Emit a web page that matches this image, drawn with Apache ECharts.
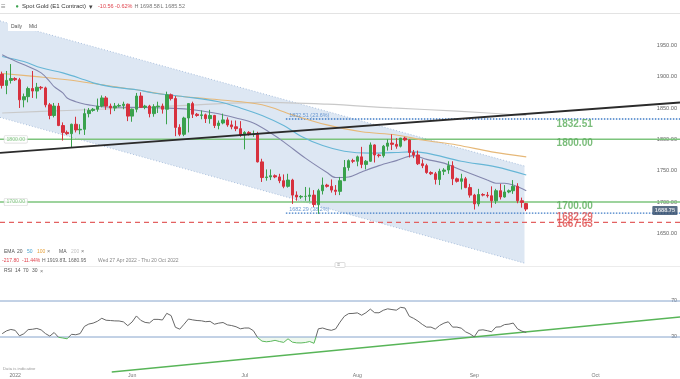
<!DOCTYPE html>
<html><head><meta charset="utf-8">
<script src="https://cdn.jsdelivr.net/npm/echarts@6/dist/echarts.min.js"></script>
<style>html,body{margin:0;padding:0;background:#fff}#c{width:680px;height:379px}</style>
</head><body><div id="c"></div>
<script>
// ---------- data ----------
const firstDate = '2022-04-27';
const lastDataDate = '2022-09-15';
const categoryCount = 157;
const monthLabels = {'05':'2022','06':'Jun','07':'Jul','08':'Aug','09':'Sep','10':'Oct'};

const opens = [1904,1886,1894,1897,1895,1863,1868,1881,1877,1883,
1882,1855,1838,1853,1822,1811,1809,1824,1815,1816,
1841,1846,1848,1853,1866,1853,1850,1853,1854,1856,
1837,1848,1869,1851,1853,1841,1852,1853,1848,1871,
1865,1819,1808,1834,1857,1840,1838,1839,1833,1838,
1822,1826,1831,1823,1820,1817,1807,1811,1808,1808,
1764,1739,1740,1742,1740,1734,1725,1735,1711,1708,
1709,1709,1711,1696,1718,1727,1725,1719,1717,1734,
1755,1766,1765,1772,1760,1765,1791,1775,1774,1789,
1794,1792,1789,1802,1799,1779,1775,1761,1758,1747,
1745,1736,1749,1751,1758,1737,1733,1737,1723,1711,
1697,1712,1711,1710,1702,1718,1708,1716,1718,1725,
1702,1697.5];
const highs = [1908,1909,1920,1899,1898,1873,1884,1909,1890,1885,
1884,1858,1858,1858,1827,1814,1825,1836,1824,1849,
1850,1850,1865,1870,1869,1857,1858,1857,1860,1857,
1849,1874,1875,1855,1855,1856,1860,1857,1876,1873,
1869,1824,1836,1857,1860,1842,1846,1841,1847,1839,
1830,1841,1835,1830,1830,1829,1813,1813,1814,1812,
1769,1752,1752,1744,1745,1744,1745,1737,1717,1711,
1724,1723,1719,1721,1739,1729,1736,1727,1740,1767,
1768,1769,1774,1788,1767,1795,1792,1777,1791,1800,
1808,1802,1802,1804,1800,1783,1782,1768,1761,1749,
1748,1753,1754,1765,1765,1739,1745,1740,1729,1713,
1721,1714,1716,1725,1721,1729,1727,1720,1735,1730,
1707,1698.58];
const lows = [1881,1872,1889,1893,1850,1851,1859,1866,1865,1879,
1851,1832,1835,1821,1798,1807,1787,1811,1808,1807,
1835,1844,1844,1851,1847,1840,1845,1851,1848,1829,
1828,1843,1850,1848,1835,1836,1842,1841,1824,1862,
1805,1805,1805,1811,1834,1836,1832,1826,1825,1818,
1816,1824,1820,1816,1813,1804,1784,1806,1804,1763,
1732,1734,1735,1738,1730,1722,1723,1697,1702,1705,
1702,1701,1692,1681,1712,1723,1715,1711,1711,1734,
1750,1762,1757,1754,1752,1764,1763,1771,1771,1782,
1783,1785,1787,1797,1771,1770,1759,1754,1745,1743,
1728,1727,1743,1745,1727,1731,1720,1722,1707,1688,
1693,1709,1707,1691,1697,1704,1707,1714,1713,1698,
1691,1685.52];
const closes = [1886,1894,1897,1895,1863,1868,1881,1877,1883,1882,
1855,1838,1853,1822,1811,1809,1824,1815,1816,1841,
1846,1848,1853,1866,1853,1850,1853,1854,1856,1837,
1848,1869,1851,1853,1841,1852,1853,1848,1871,1865,
1819,1808,1834,1857,1840,1838,1839,1833,1838,1822,
1826,1831,1823,1820,1817,1807,1811,1808,1808,1764,
1739,1740,1742,1740,1734,1725,1735,1711,1708,1709,
1709,1711,1696,1718,1727,1725,1719,1717,1734,1755,
1766,1765,1772,1760,1765,1791,1775,1774,1789,1794,
1792,1789,1802,1799,1779,1775,1761,1758,1747,1745,
1736,1749,1751,1758,1737,1733,1737,1723,1711,1697,
1712,1711,1710,1702,1718,1708,1716,1718,1725,1702,
1699.31,1688.75];

// moving averages: [candle index, price]
const ema20 = [[0,1935],[3,1925],[6,1916],[9,1906],[11,1892],[12,1884],[14,1874],[15,1866],[17,1860],[18,1858],[20,1855],[23,1852],[30,1851],[37,1850],[43,1848],[49,1842],[54,1834],[58,1826],[62,1810],[65,1796],[70,1770],[75,1747],[77,1739],[80,1740],[83,1748],[87,1758],[91,1766],[95,1774],[98,1768],[102,1762],[106,1751],[109,1743],[112,1735],[114,1730],[116,1730],[118,1727],[121,1718]];
const ema50 = [[0,1932],[5,1924],[9,1914],[14,1906],[19,1895],[21,1890],[25,1884],[31,1879],[35,1874],[42,1868],[50,1860],[55,1850],[60,1838],[65,1822],[69,1805],[74,1790],[79,1781],[85,1778],[91,1779],[94,1780],[98,1778],[106,1765],[114,1756],[121,1743]];
const ema100 = [[0,1905],[8,1900],[15,1895],[23,1887],[31,1879],[38,1871],[50,1863],[60,1855],[67,1839],[75,1823],[83,1812],[91,1807],[97,1799],[105,1791],[113,1780],[121,1772]];
const ma200 = [[0,1842],[15,1846],[30,1850],[45,1855],[60,1859],[75,1856],[90,1850],[105,1845],[121,1838]];

const rsi14 = [33.7,36.8,38.4,37.4,31.3,33.6,38.2,38.6,39.5,37.9,
33.8,31.0,35.0,29.7,28.9,28.0,33.0,32.5,33.8,41.8,
44.4,45.4,47.5,50.8,48.6,48.3,47.9,47.8,46.8,42.6,
46.7,53.4,48.5,46.2,45.6,49.6,49.6,48.9,56.3,53.8,
40.8,38.7,44.2,50.0,49.0,48.3,48.0,47.0,47.4,44.2,
45.4,46.1,43.5,42.7,41.4,39.1,40.0,40.0,37.0,29.2,
25.4,24.7,25.2,26.3,25.0,24.0,28.0,24.3,23.5,23.4,
23.9,25.0,23.0,39.1,40.0,38.4,37.4,39.0,46.5,53.0,
56.0,56.2,56.8,54.2,57.0,61.0,57.0,56.9,59.7,61.3,
60.5,59.8,63.0,62.2,53.0,50.7,47.7,44.0,41.0,41.0,
38.8,42.8,45.4,46.9,41.0,41.0,39.8,35.7,33.5,30.2,
37.5,38.0,37.0,35.8,41.0,41.3,43.8,44.3,45.5,39.0,
36.5,35.0];

const priceTicks = [1650,1700,1750,1800,1850,1900,1950];
const rsiTicks = [30,70];
const greenLevels = [1800,1700];
const fibLevels = [1832.51,1682.29];
const fibPct = ['23.6%','38.2%'];
const fibStartIdx = 65.5;
const redLevel = 1667.63;
const bigLevels = [1832.51,1800,1700,1682.29,1667.63];
const lastPrice = 1688.75;
const trendLine = [[-0.5,1778.4],[156.5,1858.7]];
const channelUpper = [[-0.5,1988.9],[120.6,1757.3]];
const channelLower = [[-0.5,1835],[120.6,1602.5]];
const rsiTrend = [[25.3,-8.9],[156.5,52.2]];

// ---------- categories ----------
const dates = [];
for (let d = new Date(firstDate + 'T00:00:00Z'); dates.length < categoryCount; d.setUTCDate(d.getUTCDate() + 1)) {
  const iso = d.toISOString().slice(0, 10);
  if (d.getUTCDay() === 6 && iso <= lastDataDate) continue;
  dates.push(iso);
}

// ---------- styles ----------
const FONT = '"Liberation Sans", Arial, sans-serif';
const bigColors = ['#5aad5a','#5aad5a','#5aad5a','#e04e4e','#e04e4e'];
const bigOffsets = [5,4,4.5,4,1.5];
const XMIN = -0.5, XMAX = categoryCount - 0.5;

function hLine(y0, y1, x0, x1, color, width, type, xAxisIndex, yAxisIndex, z) {
  return {type:'line', xAxisIndex, yAxisIndex, data:[[x0,y0],[x1,y1]], symbol:'none', silent:true, z,
    lineStyle:{color, width, type}, animation:false};
}
function maLine(data, color, width) {
  return {type:'line', xAxisIndex:1, yAxisIndex:0, data, symbol:'none', smooth:0.35, silent:true, z:3,
    lineStyle:{color, width}, animation:false};
}
function T(text, x, y, size, color, weight) {
  return {type:'text', x, y, silent:true, z:100,
    style:{text, fill:color, fontSize:size, fontFamily:FONT, fontWeight:weight || 'normal', verticalAlign:'middle'}};
}

const candleData = opens.map((o, i) => [o, closes[i], lows[i], highs[i]]);
const rsiBelow = rsi14.map(v => Math.min(v, 30));
const rsiGap = rsi14.map(v => 30 - Math.min(v, 30));

const series = [
  {type:'custom', xAxisIndex:1, yAxisIndex:0, silent:true, z:0, data:[[0,0]], animation:false,
    renderItem:(p, api) => ({type:'polygon', shape:{points:[
      api.coord(channelUpper[0]), api.coord(channelUpper[1]), api.coord(channelLower[1]), api.coord(channelLower[0])]},
      style:{fill:'#dde7f3'}})},
  {type:'line', xAxisIndex:1, yAxisIndex:0, data:channelUpper, symbol:'none', silent:true, z:1, lineStyle:{color:'#a9bfdc', width:1, type:[1,2]}, animation:false},
  {type:'line', xAxisIndex:1, yAxisIndex:0, data:channelLower, symbol:'none', silent:true, z:1, lineStyle:{color:'#a9bfdc', width:1, type:[1,2]}, animation:false},
  ...greenLevels.map(v => hLine(v, v, XMIN, XMAX, '#7cc47c', 1.4, 'solid', 1, 0, 2)),
  ...fibLevels.map(v => hLine(v, v, fibStartIdx, XMAX, '#3f7cc6', 1.4, [1.5,1.5], 1, 0, 2)),
  hLine(redLevel, redLevel, XMIN, XMAX, '#e36161', 1.3, [5,4], 1, 0, 2),
  maLine(ma200, '#c9c9c9', 1.2),
  maLine(ema100, '#e6b878', 1.1),
  maLine(ema50, '#66b6d6', 1.1),
  maLine(ema20, '#8487ae', 1.1),
  {type:'line', xAxisIndex:1, yAxisIndex:0, data:trendLine, symbol:'none', silent:true, z:5, lineStyle:{color:'#2b2b2b', width:1.8}, animation:false},
  {type:'candlestick', xAxisIndex:0, yAxisIndex:0, data:candleData, barWidth:3, z:4, silent:true, animation:false,
    itemStyle:{color:'#3aa24d', color0:'#d7313e', borderColor:'#3aa24d', borderColor0:'#d7313e', borderWidth:1}},
  // level labels
  {type:'scatter', xAxisIndex:1, yAxisIndex:0, symbolSize:0.1, itemStyle:{color:'transparent'}, silent:true, z:10, animation:false,
    data: bigLevels.map((v, k) => ({value:[128, v], label:{color:bigColors[k], offset:[0, bigOffsets[k]]}})),
    label:{show:true, position:'right', distance:0, fontSize:10, fontWeight:'bold', fontFamily:FONT, formatter:p => p.value[1].toFixed(2)}},
  {type:'scatter', xAxisIndex:1, yAxisIndex:0, symbolSize:0.1, itemStyle:{color:'transparent'}, silent:true, z:10, animation:false,
    data: fibLevels.map((v, k) => ({value:[66.3, v], pct:fibPct[k]})),
    label:{show:true, position:'right', distance:0, offset:[0,-3.5], fontSize:5.4, color:'#4a82c8', fontFamily:FONT,
      formatter:p => p.value[1].toFixed(2) + ' (' + p.data.pct + ')'}},
  {type:'scatter', xAxisIndex:1, yAxisIndex:0, symbolSize:0.1, itemStyle:{color:'transparent'}, silent:true, z:10, animation:false,
    data: greenLevels.map(v => [0.5, v]),
    label:{show:true, position:'right', distance:0, fontSize:5.2, color:'#6cb86c', fontFamily:FONT, backgroundColor:'#fff',
      borderColor:'#cfcfcf', borderWidth:0.6, borderRadius:1, padding:[1,2], formatter:p => p.value[1].toFixed(2)}},
  {type:'scatter', xAxisIndex:1, yAxisIndex:0, symbolSize:0.1, itemStyle:{color:'transparent'}, silent:true, z:11, animation:false,
    data:[[150.1, lastPrice]],
    label:{show:true, position:'right', distance:0, offset:[0,1.5], fontSize:5.6, fontWeight:'bold', color:'#fff', fontFamily:FONT,
      backgroundColor:'#2e4868', borderRadius:1, padding:[1.5,2.5], formatter:p => p.value[1].toFixed(2)}},
  // RSI panel
  ...rsiTicks.map(v => hLine(v, v, XMIN, XMAX, '#86a4cc', 1, 'solid', 3, 1, 2)),
  {type:'line', xAxisIndex:2, yAxisIndex:1, data:rsiBelow, stack:'rsiFill', symbol:'none', silent:true, z:1, lineStyle:{opacity:0}, animation:false},
  {type:'line', xAxisIndex:2, yAxisIndex:1, data:rsiGap, stack:'rsiFill', symbol:'none', silent:true, z:1, lineStyle:{opacity:0},
    areaStyle:{color:'rgba(110,190,110,0.16)'}, animation:false},
  {type:'line', xAxisIndex:3, yAxisIndex:1, data:rsiTrend, symbol:'none', silent:true, z:4, clip:false, lineStyle:{color:'#58b558', width:1.5}, animation:false},
  {type:'line', xAxisIndex:2, yAxisIndex:1, data:rsi14, symbol:'none', silent:true, z:5, lineStyle:{width:1}, animation:false}
];
const rsiSeriesIndex = series.length - 1;

const option = {
  animation:false,
  backgroundColor:'#fff',
  textStyle:{fontFamily:FONT},
  grid:[
    {left:-2.35, right:0, top:20.2, height:244.5},
    {left:-2.35, right:0, top:274, height:90}
  ],
  xAxis:[
    {type:'category', gridIndex:0, data:dates, axisLine:{show:false}, axisTick:{show:false}, axisLabel:{show:false}, splitLine:{show:false}},
    {type:'value', gridIndex:0, min:XMIN, max:XMAX, show:false},
    {type:'category', gridIndex:1, data:dates, axisLine:{show:false}, axisTick:{show:false}, splitLine:{show:false},
      axisLabel:{fontSize:5.2, color:'#777', margin:9,
        interval:(idx, val) => idx > 0 && val.slice(0,7) !== dates[idx-1].slice(0,7) && !!monthLabels[val.slice(5,7)],
        formatter:val => monthLabels[val.slice(5,7)] || ''}},
    {type:'value', gridIndex:1, min:XMIN, max:XMAX, show:false}
  ],
  yAxis:[
    {type:'value', gridIndex:0, position:'right', min:1600, max:1990, interval:50, axisLine:{show:false}, axisTick:{show:false}, splitLine:{show:false},
      axisLabel:{inside:true, margin:3, fontSize:5.6, color:'#666', showMaxLabel:false,
        formatter:v => priceTicks.includes(v) ? v.toFixed(2) : ''}},
    {type:'value', gridIndex:1, position:'right', min:0, max:100, interval:10, axisLine:{show:false}, axisTick:{show:false}, splitLine:{show:false},
      axisLabel:{inside:true, margin:3, fontSize:5.2, color:'#666', formatter:v => rsiTicks.includes(v) ? String(v) : ''}}
  ],
  visualMap:{show:false, type:'piecewise', seriesIndex:rsiSeriesIndex, dimension:1,
    pieces:[{gte:-50, lt:30, color:'#5cb85c'}, {gte:30, lte:150, color:'#666666'}], outOfRange:{color:'#666666'}},
  series,
  graphic:[
    {type:'rect', shape:{x:0, y:0, width:680, height:13.5}, style:{fill:'#fff'}, z:90, silent:true},
    {type:'line', shape:{x1:0, y1:13.5, x2:680, y2:13.5}, style:{stroke:'#e3e3e3', lineWidth:1}, z:91, silent:true},
    {type:'rect', shape:{x:8, y:20.5, width:33, height:10.5}, style:{fill:'#fff'}, z:90, silent:true},
    {type:'line', shape:{x1:0, y1:266.5, x2:680, y2:266.5}, style:{stroke:'#ececec', lineWidth:1}, z:91, silent:true},
    {type:'rect', shape:{x:335, y:262.5, width:10, height:5, r:1}, style:{fill:'#fff', stroke:'#c8c8c8', lineWidth:0.6}, z:92, silent:true},
    T('\u2261', 337.3, 265, 5, '#999'),
    T('\u2261', 1, 6.5, 8, '#888'),
    T('\u25CF', 15.5, 6.5, 5.5, '#3aa24d'),
    T('Spot Gold (E1 Contract)', 22, 6.5, 6, '#333'),
    T('\u25BE', 88.5, 6.8, 7, '#444'),
    T('-10.56', 98, 6.5, 5.5, '#e0454f'),
    T('-0.62%', 115, 6.5, 5.5, '#e0454f'),
    T('H 1698.58', 134.5, 6.5, 5.5, '#777'),
    T('L 1685.52', 160.5, 6.5, 5.5, '#777'),
    T('Daily', 11, 26.5, 5, '#555'),
    T('Mid', 29, 26.5, 5, '#555'),
    T('EMA', 4, 251.8, 5, '#555'),
    T('20', 17, 251.8, 5, '#555'),
    T('50', 27, 251.8, 5, '#4aa3d0'),
    T('100', 37, 251.8, 5, '#e5a03a'),
    T('\u00D7', 47, 251.8, 5.5, '#777'),
    T('MA', 59, 251.8, 5, '#555'),
    T('200', 71, 251.8, 5, '#c4c4c4'),
    T('\u00D7', 81, 251.8, 5.5, '#777'),
    T('-217.80', 2, 260.8, 5, '#e0454f'),
    T('-11.44%', 22, 260.8, 5, '#e0454f'),
    T('H 1919.87', 42, 260.8, 5, '#666'),
    T('L 1680.95', 64, 260.8, 5, '#666'),
    T('Wed 27 Apr 2022 - Thu 20 Oct 2022', 98, 260.8, 5, '#888'),
    T('RSI', 4, 271, 5, '#555'),
    T('14', 15, 271, 5, '#555'),
    T('70', 23, 271, 5, '#555'),
    T('30', 32, 271, 5, '#555'),
    T('\u00D7', 40, 271, 5.5, '#777'),
    T('Data is indicative', 3, 369, 4.3, '#999')
  ]
};

const chart = echarts.init(document.getElementById('c'), null, {renderer:'canvas', width:680, height:379});
chart.setOption(option);
</script>
</body></html>
